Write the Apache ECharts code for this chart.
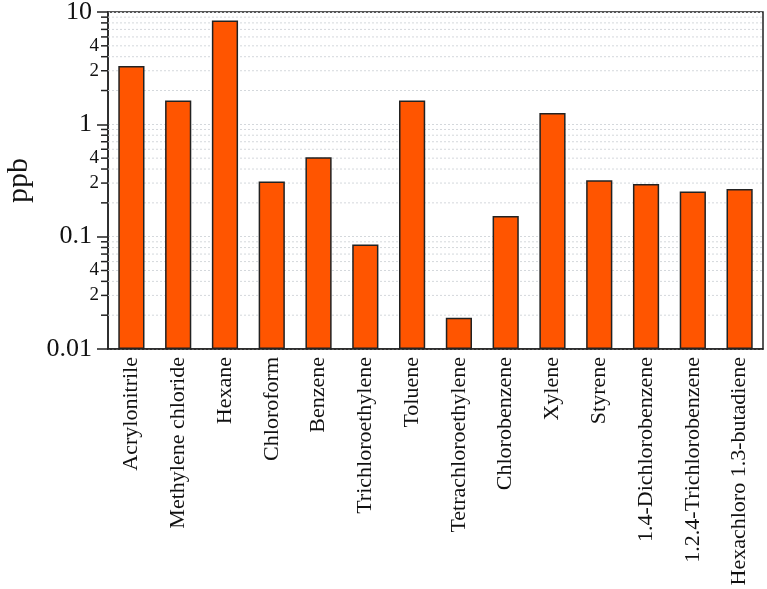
<!DOCTYPE html>
<html>
<head>
<meta charset="utf-8">
<script src="https://cdn.jsdelivr.net/npm/echarts@6/dist/echarts.min.js"></script>
<style>
  html, body { margin: 0; padding: 0; background: #fff; }
  #chart { width: 767px; height: 589px; }
</style>
</head>
<body>
<div id="chart"></div>
<script>
// compounds on the x axis
const categories = [
  'Acrylonitrile', 'Methylene chloride', 'Hexane', 'Chloroform', 'Benzene',
  'Trichloroethylene', 'Toluene', 'Tetrachloroethylene', 'Chlorobenzene',
  'Xylene', 'Styrene', '1.4-Dichlorobenzene', '1.2.4-Trichlorobenzene',
  'Hexachloro 1.3-butadiene'
]
// concentrations in ppb
const values = [3.3, 1.63, 8.4, 0.31, 0.51, 0.085, 1.63, 0.019, 0.153, 1.26, 0.318, 0.294, 0.252, 0.266]

// minor ticks of the log axis (2..9 in each decade), only 2 and 4 are labelled
const minorTicks = [
  0.02, 0.03, 0.04, 0.05, 0.06, 0.07, 0.08, 0.09,
  0.2, 0.3, 0.4, 0.5, 0.6, 0.7, 0.8, 0.9,
  2, 3, 4, 5, 6, 7, 8, 9
]
const minorLabels = ['', '2', '', '4', '', '', '', '']

const serif = '"Liberation Serif", "Times New Roman", serif'
const chart = echarts.init(document.getElementById('chart'))

chart.setOption({
  animation: false,
  grid: {
    left: 108,
    right: 4,
    top: 12,
    bottom: 240,
    outerBoundsMode: 'none',
    containLabel: false,
    show: true,
    borderColor: '#222',
    borderWidth: 1.5
  },
  xAxis: {
    type: 'category',
    data: categories,
    axisLine: { lineStyle: { color: '#222', width: 1.5 } },
    axisTick: { length: 12, interval: 0, lineStyle: { color: '#222', width: 1.5 } },
    axisLabel: {
      rotate: 90,
      interval: 0,
      margin: 8,
      fontSize: 22,
      fontFamily: serif,
      color: '#111'
    }
  },
  yAxis: {
    type: 'log',
    logBase: 10,
    min: 0.01,
    max: 10,
    startValue: 0.01,
    name: 'ppb',
    nameLocation: 'middle',
    nameRotate: 90,
    nameGap: 74,
    nameTextStyle: { fontSize: 30, fontFamily: serif, color: '#111' },
    axisLine: { show: true, lineStyle: { color: '#222', width: 1.5 } },
    axisTick: { show: true, length: 11, lineStyle: { color: '#222', width: 1.5 } },
    axisLabel: {
      fontSize: 26,
      fontFamily: serif,
      color: '#111',
      margin: 16,
      formatter: v => String(+Number(v).toPrecision(2))
    },
    splitLine: { show: true, lineStyle: { color: '#d4d8dc', type: [2, 2], width: 1 } }
  },
  series: [
    {
      // minor ticks + dotted minor grid lines, placed by the log scale
      type: 'custom',
      z: 1,
      clip: false,
      silent: true,
      data: minorTicks.map((v, i) => [0, v, minorLabels[i % 8]]),
      renderItem: (params, api) => {
        const cs = params.coordSys
        const y = api.coord([0, api.value(1)])[1]
        const children = [
          {
            type: 'line',
            shape: { x1: cs.x, y1: y, x2: cs.x + cs.width, y2: y },
            style: { stroke: '#d4d8dc', lineWidth: 1, lineDash: [2, 2] }
          },
          {
            type: 'line',
            shape: { x1: cs.x - 7, y1: y, x2: cs.x, y2: y },
            style: { stroke: '#222', lineWidth: 1.5 }
          }
        ]
        const label = api.value(2)
        if (label) {
          children.push({
            type: 'text',
            x: cs.x - 9,
            y: y,
            style: {
              text: label,
              fontSize: 19,
              fontFamily: serif,
              fill: '#111',
              align: 'right',
              verticalAlign: 'middle'
            }
          })
        }
        return { type: 'group', children: children }
      }
    },
    {
      name: 'ppb',
      type: 'bar',
      z: 2,
      barWidth: '56%',
      data: values,
      itemStyle: { color: '#ff5500', borderColor: '#222', borderWidth: 1.5 }
    }
  ]
})
</script>
</body>
</html>
